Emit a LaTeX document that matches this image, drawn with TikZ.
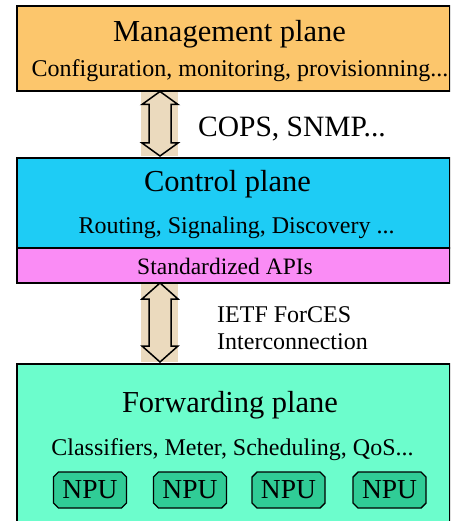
\documentclass[tikz,border=0pt]{standalone}
\usepackage{fontspec}
\setmainfont{Liberation Serif}
\usetikzlibrary{calc,shapes.misc}
\definecolor{mgmtcol}{RGB}{252,198,108}
\definecolor{ctrlcol}{RGB}{30,204,245}
\definecolor{apicol}{RGB}{250,140,245}
\definecolor{fwdcol}{RGB}{108,253,204}
\definecolor{npucol}{RGB}{48,204,150}
\definecolor{tancol}{RGB}{235,218,190}
\tikzset{
  plane/.style={draw=black, line width=1.6pt, anchor=north west, inner sep=0pt, minimum width=433pt},
  lbl/.style={anchor=base, inner sep=0pt, text=black},
  big/.style={font=\fontsize{30.5}{36}\selectfont},
  mid/.style={font=\fontsize{24}{29}\selectfont},
  npubox/.style={draw=black, line width=1.4pt, fill=npucol, minimum width=73pt, minimum height=36pt,
    inner sep=0pt, chamfered rectangle, chamfered rectangle xsep=2.5pt, chamfered rectangle ysep=2.5pt,
    font=\fontsize{27.5}{32}\selectfont},
  dblarrow/.style={draw=black, line width=1.5pt, fill=tancol, line join=miter},
  tanbg/.style={fill=tancol, draw=none}
}
\begin{document}
\begin{tikzpicture}[x=1pt,y=-1pt]
\useasboundingbox (0,0) rectangle (450,521);
\clip (0,0) rectangle (450,521);
\fill[white] (0,0) rectangle (450,521);
% planes
\node[plane, fill=mgmtcol, minimum height=85pt] (mgmt) at (16,5) {};
\node[plane, fill=ctrlcol, minimum height=90pt] (ctrl) at (16,157) {};
\node[plane, fill=apicol, minimum height=35pt] (api) at (16,247) {};
\node[plane, fill=fwdcol, minimum height=170pt] (fwd) at (16,363) {};
% arrow backgrounds
\fill[tanbg] ($(mgmt.south west)+(125,0.8)$) rectangle ($(ctrl.north west)+(162,-0.8)$);
\fill[tanbg] ($(api.south west)+(125,0.8)$) rectangle ($(fwd.north west)+(162,-0.8)$);
% double arrows
\coordinate (a1t) at (160,91.5);
\coordinate (a1b) at (160,156);
\draw[dblarrow] (a1t) -- ++(18,13) -- ++(-7,0) |- ($(a1b)+(11,-13)$) -- ++(7,0) -- (a1b)
  -- ++(-18,-13) -- ++(7,0) |- ($(a1t)+(-11,13)$) -- ++(-7,0) -- cycle;
\coordinate (a2t) at (160,283);
\coordinate (a2b) at (160,362);
\draw[dblarrow] (a2t) -- ++(18,16) -- ++(-7,0) |- ($(a2b)+(11,-16)$) -- ++(7,0) -- (a2b)
  -- ++(-18,-16) -- ++(7,0) |- ($(a2t)+(-11,16)$) -- ++(-7,0) -- cycle;
% texts
\node[lbl, big] (mgmtt) at (229.5,42) {Management plane};
\node[lbl, mid] (mgmts) at (240,77) {Configuration, monitoring, provisionning...};
\node[lbl, font=\fontsize{29.5}{34}\selectfont] (cops) at (292,137) {COPS, SNMP...};
\node[lbl, big] (ctrlt) at (227.5,192) {Control plane};
\node[lbl, mid] (ctrls) at (236.5,233) {Routing, Signaling, Discovery ...};
\node[lbl, font=\fontsize{23.5}{28}\selectfont] (apit) at (225,274) {Standardized APIs};
\node[lbl, mid, anchor=base west] (ietf) at (217,322) {IETF ForCES};
\node[lbl, mid, anchor=base west] (inter) at (217,349) {Interconnection};
\node[lbl, big] (fwdt) at (230,412) {Forwarding plane};
\node[lbl, mid] (fwds) at (232.5,455) {Classifiers, Meter, Scheduling, QoS...};
% NPUs
\node[npubox] (npu1) at (90,490) {NPU};
\node[npubox] (npu2) at (190,490) {NPU};
\node[npubox] (npu3) at (288.5,490) {NPU};
\node[npubox] (npu4) at (389.5,490) {NPU};
\end{tikzpicture}
\end{document}
